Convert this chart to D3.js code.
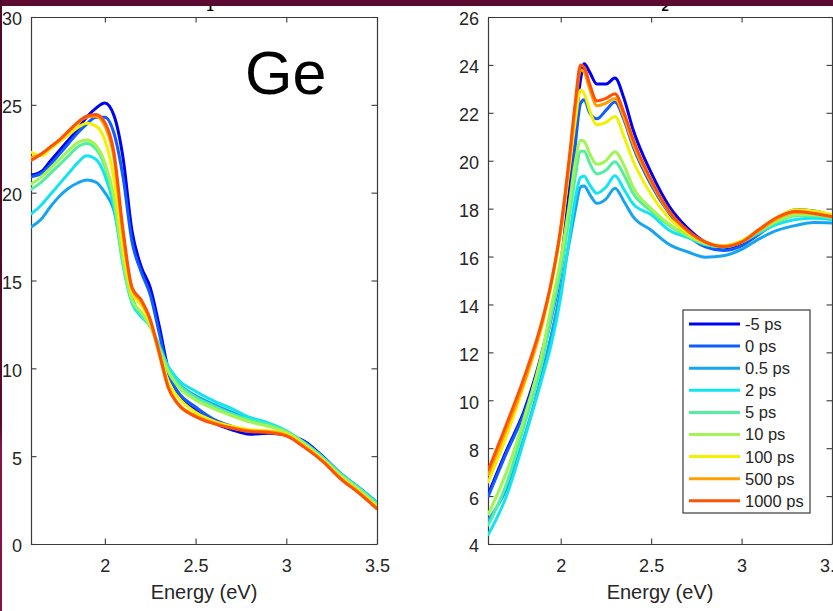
<!DOCTYPE html>
<html>
<head>
<meta charset="utf-8">
<script src="https://cdn.jsdelivr.net/npm/d3@7"></script>
<style>
  html, body { margin: 0; padding: 0; background: #fff; overflow: hidden; }
  svg { display: block; font-family: Arial, "Liberation Sans", sans-serif; }
</style>
</head>
<body>
<div id="chart"></div>
<script>

// pump-probe delays and their jet-like colours
var delays = ['-5 ps', '0 ps', '0.5 ps', '2 ps', '5 ps', '10 ps', '100 ps', '500 ps', '1000 ps'];
var colors = ['#0000f2', '#0f5cff', '#16a4f2', '#14e4f0', '#50efa2', '#a2f452', '#f2f200', '#ffa000', '#ff5200'];

var energyTicks = [2, 2.5, 3, 3.5];
var eps1Ticks = [0, 5, 10, 15, 20, 25, 30];
var eps2Ticks = [4, 6, 8, 10, 12, 14, 16, 18, 20, 22, 24, 26];

// left panel (eps1), one row per delay
var energy1 = [1.595, 1.65, 1.7, 1.75, 1.8, 1.85, 1.9, 1.95, 2.0, 2.05, 2.1, 2.15, 2.2, 2.25,
               2.3, 2.35, 2.4, 2.5, 2.6, 2.7, 2.8, 2.9, 3.0, 3.1, 3.2, 3.3, 3.4, 3.5];
var eps1 = [
  [21.0, 21.2, 21.8, 22.4, 23.0, 23.6, 24.3, 24.8, 25.1, 24.4, 22.0, 17.8, 15.8, 14.6, 12.4, 9.9, 8.6, 7.6, 6.9, 6.5, 6.25, 6.3, 6.2, 5.85, 5.0, 4.0, 3.2, 2.35],
  [20.9, 21.1, 21.6, 22.2, 22.8, 23.4, 23.9, 24.3, 24.3, 23.4, 20.9, 17.2, 15.5, 14.2, 12.0, 9.7, 8.7, 7.8, 7.1, 6.7, 6.4, 6.4, 6.25, 5.8, 4.95, 4.0, 3.15, 2.3],
  [18.05, 18.5, 19.2, 19.8, 20.25, 20.55, 20.72, 20.6, 20.0, 19.0, 16.3, 14.0, 13.0, 12.5, 11.0, 9.9, 9.2, 8.45, 7.95, 7.5, 7.1, 6.8, 6.4, 5.75, 4.95, 4.0, 3.2, 2.35],
  [18.8, 19.3, 19.9, 20.5, 21.1, 21.7, 22.1, 21.9, 21.0, 19.2, 15.9, 13.7, 12.95, 12.4, 11.3, 10.1, 9.4, 8.7, 8.15, 7.7, 7.2, 6.9, 6.45, 5.75, 4.95, 4.0, 3.2, 2.35],
  [20.2, 20.6, 21.1, 21.6, 22.1, 22.6, 22.8, 22.5, 21.5, 19.5, 16.0, 13.8, 13.1, 12.4, 11.2, 9.9, 9.15, 8.35, 7.85, 7.4, 7.05, 6.8, 6.4, 5.75, 4.9, 3.95, 3.15, 2.25],
  [20.5, 20.9, 21.4, 21.9, 22.4, 22.85, 23.0, 22.7, 21.7, 19.8, 16.2, 13.9, 13.2, 12.4, 11.1, 9.8, 9.0, 8.2, 7.7, 7.3, 6.95, 6.7, 6.35, 5.7, 4.85, 3.9, 3.1, 2.2],
  [22.3, 22.1, 22.5, 22.9, 23.3, 23.7, 23.95, 23.8, 23.0, 20.8, 16.9, 14.3, 13.6, 12.6, 10.9, 9.2, 8.4, 7.5, 7.0, 6.7, 6.5, 6.45, 6.25, 5.6, 4.8, 3.8, 3.0, 2.1],
  [22.0, 22.2, 22.6, 23.0, 23.5, 23.95, 24.3, 24.35, 23.8, 22.0, 17.6, 14.5, 13.8, 12.7, 10.8, 8.9, 8.05, 7.3, 6.9, 6.6, 6.45, 6.4, 6.2, 5.55, 4.75, 3.75, 2.95, 2.05],
  [21.85, 22.2, 22.6, 23.0, 23.5, 24.0, 24.35, 24.45, 24.0, 22.3, 17.9, 14.6, 13.9, 12.8, 10.9, 8.9, 8.0, 7.25, 6.85, 6.6, 6.4, 6.35, 6.15, 5.5, 4.7, 3.7, 2.9, 2.0]
];

// right panel (eps2)
var energy2 = [1.6, 1.7, 1.8, 1.9, 1.95, 2.0, 2.05, 2.08, 2.11, 2.13, 2.16, 2.2, 2.25, 2.3,
               2.35, 2.4, 2.5, 2.6, 2.7, 2.8, 2.9, 3.0, 3.1, 3.2, 3.3, 3.4, 3.5];
var eps2 = [
  [6.1, 7.9, 9.6, 12.1, 13.7, 15.7, 19.0, 21.4, 23.4, 24.05, 23.7, 23.2, 23.2, 23.45, 22.6, 21.3, 19.5, 18.1, 17.2, 16.6, 16.35, 16.5, 17.0, 17.6, 17.95, 17.9, 17.7],
  [6.0, 7.8, 9.5, 11.9, 13.5, 15.3, 18.3, 20.6, 22.4, 22.55, 22.0, 21.75, 22.1, 22.45, 21.7, 20.6, 19.0, 17.8, 16.9, 16.4, 16.25, 16.45, 16.95, 17.45, 17.75, 17.7, 17.55],
  [5.0, 6.3, 8.5, 11.2, 12.8, 14.6, 16.7, 17.9, 18.9, 18.95, 18.6, 18.22, 18.4, 18.85, 18.3, 17.67, 17.1, 16.5, 16.2, 15.97, 16.03, 16.3, 16.75, 17.1, 17.3, 17.42, 17.4],
  [4.4, 6.0, 8.4, 11.0, 12.4, 14.3, 16.9, 18.4, 19.3, 19.35, 19.0, 18.64, 18.9, 19.37, 18.8, 18.2, 17.75, 17.1, 16.8, 16.5, 16.4, 16.6, 17.0, 17.35, 17.55, 17.6, 17.55],
  [4.8, 6.5, 9.0, 11.7, 13.6, 15.4, 17.8, 19.3, 20.4, 20.4, 19.9, 19.45, 19.6, 19.96, 19.4, 18.64, 17.9, 17.3, 16.85, 16.5, 16.4, 16.6, 17.05, 17.45, 17.7, 17.7, 17.6],
  [5.25, 7.0, 9.3, 12.1, 14.0, 15.9, 18.3, 19.9, 20.85, 20.8, 20.3, 19.85, 20.0, 20.38, 19.8, 18.9, 18.0, 17.35, 16.9, 16.55, 16.45, 16.65, 17.1, 17.5, 17.75, 17.75, 17.65],
  [6.6, 8.5, 10.7, 13.2, 14.9, 17.0, 19.8, 21.6, 22.95, 22.8, 22.1, 21.5, 21.6, 21.85, 21.0, 20.0, 18.6, 17.6, 17.0, 16.6, 16.45, 16.65, 17.15, 17.65, 17.95, 17.9, 17.75],
  [6.9, 8.8, 10.8, 13.3, 15.0, 17.1, 20.1, 22.2, 23.8, 23.7, 23.0, 22.3, 22.4, 22.6, 21.8, 20.7, 19.1, 17.85, 17.05, 16.6, 16.42, 16.6, 17.1, 17.6, 17.85, 17.8, 17.65],
  [7.1, 9.0, 11.0, 13.4, 15.0, 17.2, 20.3, 22.4, 24.0, 23.9, 23.2, 22.5, 22.6, 22.8, 22.0, 20.9, 19.2, 17.9, 17.1, 16.6, 16.42, 16.6, 17.15, 17.65, 17.88, 17.8, 17.67]
];

var width = 833, height = 611;
var axisColor = '#3a3a3a';
var textColor = '#262626';

var svg = d3.select('#chart').append('svg')
  .attr('width', width)
  .attr('height', height);

svg.append('rect').attr('width', width).attr('height', height).attr('fill', '#fff');

function drawPanel (opts) {
  var x = d3.scaleLinear().domain(opts.xDomain).range([opts.left, opts.right]);
  var y = d3.scaleLinear().domain(opts.yDomain).range([opts.bottom, opts.top]);
  var g = svg.append('g').attr('class', 'panel ' + opts.name);

  g.append('clipPath').attr('id', 'clip-' + opts.name)
    .append('rect')
      .attr('x', opts.left).attr('y', opts.top)
      .attr('width', opts.right - opts.left)
      .attr('height', opts.bottom - opts.top);

  function styleAxis (sel) {
    sel.attr('color', axisColor)
      .attr('font-family', 'Arial, "Liberation Sans", sans-serif')
      .attr('font-size', 18);
    sel.selectAll('path.domain').attr('stroke-width', 1.2);
    sel.selectAll('.tick line').attr('stroke-width', 1.1);
    sel.selectAll('.tick text').attr('fill', textColor);
  }

  var tick = 5.5;
  g.append('g')
    .attr('transform', 'translate(0,' + opts.bottom + ')')
    .call(d3.axisBottom(x).tickValues(energyTicks).tickFormat(function (d) { return String(d); })
      .tickSizeInner(-tick).tickSizeOuter(0).tickPadding(15))
    .call(styleAxis);
  g.append('g')
    .attr('transform', 'translate(0,' + opts.top + ')')
    .call(d3.axisTop(x).tickValues(energyTicks).tickFormat('')
      .tickSizeInner(-tick).tickSizeOuter(0))
    .call(styleAxis);
  var yl = g.append('g')
    .attr('transform', 'translate(' + opts.left + ',0)')
    .call(d3.axisLeft(y).tickValues(opts.yTicks).tickFormat(function (d) { return String(d); })
      .tickSizeInner(-tick).tickSizeOuter(0).tickPadding(9))
    .call(styleAxis);
  yl.selectAll('.tick text').attr('dy', '0.44em');
  g.append('g')
    .attr('transform', 'translate(' + opts.right + ',0)')
    .call(d3.axisRight(y).tickValues(opts.yTicks).tickFormat('')
      .tickSizeInner(-tick).tickSizeOuter(0))
    .call(styleAxis);

  // axis label is 1.1x the tick font, as in the original figure
  g.append('text')
    .attr('x', (opts.left + opts.right) / 2)
    .attr('y', 599)
    .attr('text-anchor', 'middle')
    .attr('fill', textColor)
    .style('font-size', '20px')
    .text('Energy (eV)');

  var line = d3.line()
    .x(function (d) { return x(d[0]); })
    .y(function (d) { return y(d[1]); })
    .curve(d3.curveMonotoneX);

  var series = opts.values.map(function (vals, i) {
    return { label: delays[i], color: colors[i], points: vals.map(function (v, j) { return [opts.energy[j], v]; }) };
  });

  g.append('g')
    .attr('clip-path', 'url(#clip-' + opts.name + ')')
    .selectAll('path.series')
    .data(series)
    .enter().append('path')
      .attr('class', 'series')
      .attr('fill', 'none')
      .attr('stroke', function (d) { return d.color; })
      .attr('stroke-width', 3)
      .attr('stroke-linejoin', 'round')
      .attr('stroke-linecap', 'round')
      .attr('d', function (d) { return line(d.points); });

  return { g: g, x: x, y: y, series: series };
}

var left = drawPanel({
  name: 'eps1', left: 31, right: 377, top: 17, bottom: 544,
  xDomain: [1.593, 3.5], yDomain: [0, 30], yTicks: eps1Ticks,
  energy: energy1, values: eps1
});

var right = drawPanel({
  name: 'eps2', left: 488, right: 832, top: 17, bottom: 544,
  xDomain: [1.598, 3.5], yDomain: [4, 26], yTicks: eps2Ticks,
  energy: energy2, values: eps2
});

// sample label in the left panel
left.g.append('text')
  .attr('x', 245)
  .attr('y', 94)
  .attr('fill', '#000')
  .style('font-size', '61px')
  .text('Ge');

// legend
var legend = right.g.append('g').attr('class', 'legend');
legend.append('rect')
  .attr('x', 683).attr('y', 310)
  .attr('width', 127).attr('height', 203)
  .attr('fill', '#fff')
  .attr('stroke', axisColor)
  .attr('stroke-width', 1.2);
var rows = legend.selectAll('g.row')
  .data(right.series)
  .enter().append('g')
    .attr('class', 'row')
    .attr('transform', function (d, i) { return 'translate(0,' + (324 + i * 22.1) + ')'; });
rows.append('line')
  .attr('x1', 689).attr('x2', 740)
  .attr('stroke', function (d) { return d.color; })
  .attr('stroke-width', 3);
rows.append('text')
  .attr('x', 745)
  .attr('dy', '0.36em')
  .attr('fill', textColor)
  .style('font-size', '16.5px')
  .text(function (d) { return d.label; });

// panel titles, mostly hidden under the slide banner
svg.append('text').attr('x', 199).attr('y', 3).attr('text-anchor', 'middle')
  .style('font-size', '20px').style('font-weight', 'bold').text('ε');
svg.append('text').attr('x', 210).attr('y', 11).attr('text-anchor', 'middle')
  .style('font-size', '13px').style('font-weight', 'bold').text('1');
svg.append('text').attr('x', 654).attr('y', 3).attr('text-anchor', 'middle')
  .style('font-size', '20px').style('font-weight', 'bold').text('ε');
svg.append('text').attr('x', 665).attr('y', 11).attr('text-anchor', 'middle')
  .style('font-size', '13px').style('font-weight', 'bold').text('2');

// slide background edges
var defs = svg.append('defs');
var grad = defs.append('linearGradient').attr('id', 'edge')
  .attr('x1', 0).attr('y1', 0).attr('x2', 0).attr('y2', 1);
grad.append('stop').attr('offset', '0%').attr('stop-color', '#4e0826');
grad.append('stop').attr('offset', '70%').attr('stop-color', '#5a0a2c');
grad.append('stop').attr('offset', '73%').attr('stop-color', '#8a1242');
grad.append('stop').attr('offset', '100%').attr('stop-color', '#8a1242');
svg.append('rect').attr('x', 0).attr('y', 0).attr('width', width).attr('height', 6).attr('fill', '#5c0a30');
svg.append('rect').attr('x', 0).attr('y', 0).attr('width', 2).attr('height', height).attr('fill', 'url(#edge)');

</script>
</body>
</html>
